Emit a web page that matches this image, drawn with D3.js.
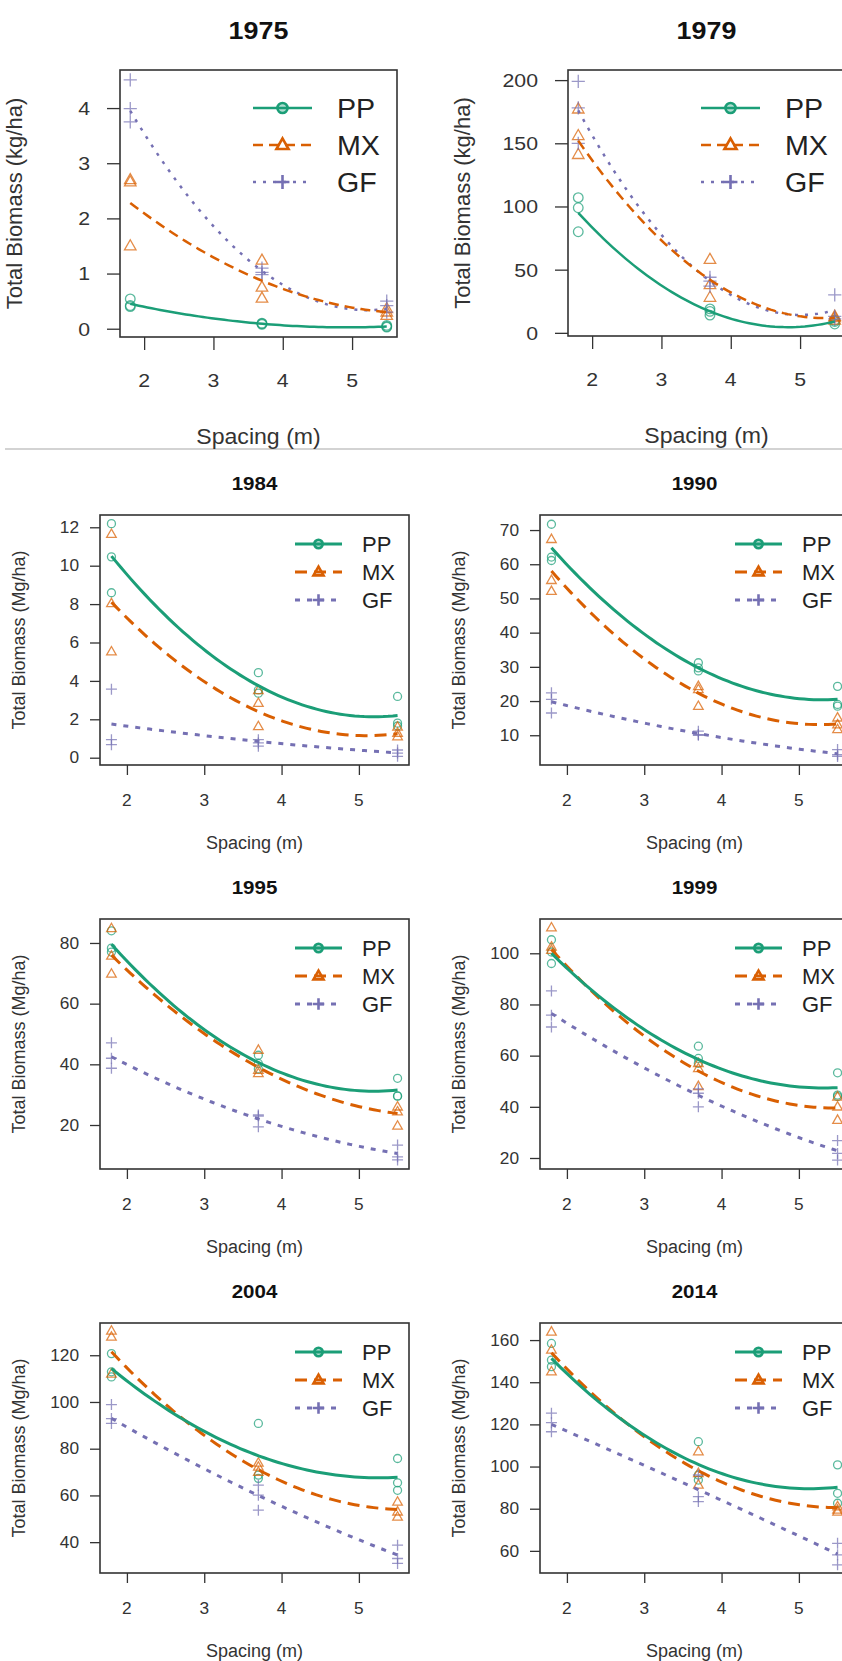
<!DOCTYPE html>
<html><head><meta charset="utf-8">
<script src="https://cdn.jsdelivr.net/npm/d3@7"></script>
<style>
body{margin:0;background:#fff;}
svg{display:block;font-family:"Liberation Sans",Arial,Helvetica,sans-serif;}
</style></head>
<body><svg id="chart" width="842" height="1661"></svg>
<script>
// ---------- data ----------
const years = ["1975","1979","1984","1990","1995","1999","2004","2014"];
const spacing = [1.8, 3.7, 5.5];
const groups = ["PP","MX","GF"];
const xTicks = [2,3,4,5];
const yUnit = {"1975":"kg/ha","1979":"kg/ha","1984":"Mg/ha","1990":"Mg/ha","1995":"Mg/ha","1999":"Mg/ha","2004":"Mg/ha","2014":"Mg/ha"};

const yTicks1975 = [0,1,2,3,4];
const yTicks1979 = [0,50,100,150,200];
const yTicks1984 = [0,2,4,6,8,10,12];
const yTicks1990 = [10,20,30,40,50,60,70];
const yTicks1995 = [20,40,60,80];
const yTicks1999 = [20,40,60,80,100];
const yTicks2004 = [40,60,80,100,120];
const yTicks2014 = [60,80,100,120,140,160];

const yDomain1975 = [-0.15, 4.69];
const yDomain1979 = [-2.5, 208];
const yDomain1984 = [-0.38, 12.64];
const yDomain1990 = [1.3, 74.4];
const yDomain1995 = [5.5, 87.9];
const yDomain1999 = [15.7, 113.4];
const yDomain2004 = [26.8, 133.8];
const yDomain2014 = [49.5, 168.1];

// observed values: one array per spacing (1.8, 3.7, 5.5)
const PP_1975 = [[0.54,0.42,0.40],[0.10,0.08,0.09],[0.06,0.04,0.03]];
const MX_1975 = [[2.70,2.66,1.50],[1.24,0.75,0.55],[0.36,0.30,0.24]];
const GF_1975 = [[4.51,3.99,3.75],[1.10,1.02,0.98],[0.50,0.42,0.30]];
const PP_1979 = [[107,99,80],[19,17,14],[10,9,7]];
const MX_1979 = [[177,156,141],[58,38,28],[13,12,10]];
const GF_1979 = [[199,178,150],[44,41,37],[30,13,11]];
const PP_1984 = [[12.19,10.46,8.59],[4.43,3.53,3.36],[3.19,1.80,1.65]];
const MX_1984 = [[11.64,8.03,5.52],[3.50,2.84,1.63],[1.60,1.28,1.10]];
const GF_1984 = [[3.57,0.94,0.68],[0.94,0.77,0.60],[0.40,0.24,0.07]];
const PP_1990 = [[71.7,62.1,61.1],[31.2,29.7,28.8],[24.3,19.0,18.5]];
const MX_1990 = [[67.3,55.3,52.1],[24.3,23.4,18.5],[15.1,13.1,11.7]];
const GF_1990 = [[22.4,20.5,16.5],[11.2,10.2,10.0],[5.8,4.3,3.8]];
const PP_1995 = [[84.0,78.3,77.0],[43.0,40.3,38.5],[35.4,29.6,29.5]];
const MX_1995 = [[84.8,75.7,69.8],[44.7,38.1,37.0],[26.0,24.4,19.7]];
const GF_1995 = [[47.1,42.0,38.7],[23.3,22.9,19.4],[13.4,9.5,8.5]];
const PP_1999 = [[105.3,100.5,96.0],[63.7,58.9,57.0],[53.3,44.6,44.0]];
const MX_1999 = [[110.0,102.5,101.2],[57.0,55.0,48.0],[43.9,40.0,34.8]];
const GF_1999 = [[85.3,75.8,71.2],[47.0,45.3,40.0],[26.8,21.8,19.2]];
const PP_2004 = [[120.7,112.9,110.7],[90.8,68.7,67.3],[75.8,65.4,62.2]];
const MX_2004 = [[130.4,127.8,112.0],[73.9,72.2,70.0],[57.2,53.0,50.8]];
const GF_2004 = [[98.9,92.9,90.8],[64.4,60.1,53.7],[38.7,33.0,30.9]];
const PP_2014 = [[158.4,150.5,147.4],[111.8,96.0,93.6],[100.8,87.3,82.6]];
const MX_2014 = [[163.9,155.3,145.0],[107.1,96.8,91.3],[81.0,79.4,78.5]];
const GF_2014 = [[125.3,120.8,116.5],[96.0,85.7,83.4],[63.6,58.1,53.4]];

// fitted (quadratic) values at the three spacings
const PP_1975_fit = [0.45,0.09,0.04];
const MX_1975_fit = [2.28,0.87,0.30];
const GF_1975_fit = [3.95,1.05,0.36];
const PP_1979_fit = [95,17,9];
const MX_1979_fit = [152,42,12];
const GF_1979_fit = [176,41,18];
const PP_1984_fit = [10.5,3.75,2.2];
const MX_1984_fit = [8.1,2.4,1.25];
const GF_1984_fit = [1.75,0.85,0.25];
const PP_1990_fit = [64.8,29.7,20.5];
const MX_1990_fit = [58,22.3,13.3];
const GF_1990_fit = [19.8,10.5,4.6];
const PP_1995_fit = [79.6,40.6,31.5];
const MX_1995_fit = [76.0,39.0,23.8];
const GF_1995_fit = [42.5,22.0,10.6];
const PP_1999_fit = [100,58.5,47.5];
const MX_1999_fit = [101.5,54,39.5];
const GF_1999_fit = [76.5,44.5,22.8];
const PP_2004_fit = [114.3,77,67.8];
const MX_2004_fit = [121.5,71,54];
const GF_2004_fit = [93,60,34.5];
const PP_2014_fit = [151.3,101,90.2];
const MX_2014_fit = [154,98,80.5];
const GF_2014_fit = [120,89,58.5];

const D = {
  "1975":{ticks:yTicks1975,dom:yDomain1975,PP:PP_1975,MX:MX_1975,GF:GF_1975,PPf:PP_1975_fit,MXf:MX_1975_fit,GFf:GF_1975_fit},
  "1979":{ticks:yTicks1979,dom:yDomain1979,PP:PP_1979,MX:MX_1979,GF:GF_1979,PPf:PP_1979_fit,MXf:MX_1979_fit,GFf:GF_1979_fit},
  "1984":{ticks:yTicks1984,dom:yDomain1984,PP:PP_1984,MX:MX_1984,GF:GF_1984,PPf:PP_1984_fit,MXf:MX_1984_fit,GFf:GF_1984_fit},
  "1990":{ticks:yTicks1990,dom:yDomain1990,PP:PP_1990,MX:MX_1990,GF:GF_1990,PPf:PP_1990_fit,MXf:MX_1990_fit,GFf:GF_1990_fit},
  "1995":{ticks:yTicks1995,dom:yDomain1995,PP:PP_1995,MX:MX_1995,GF:GF_1995,PPf:PP_1995_fit,MXf:MX_1995_fit,GFf:GF_1995_fit},
  "1999":{ticks:yTicks1999,dom:yDomain1999,PP:PP_1999,MX:MX_1999,GF:GF_1999,PPf:PP_1999_fit,MXf:MX_1999_fit,GFf:GF_1999_fit},
  "2004":{ticks:yTicks2004,dom:yDomain2004,PP:PP_2004,MX:MX_2004,GF:GF_2004,PPf:PP_2004_fit,MXf:MX_2004_fit,GFf:GF_2004_fit},
  "2014":{ticks:yTicks2014,dom:yDomain2014,PP:PP_2014,MX:MX_2014,GF:GF_2014,PPf:PP_2014_fit,MXf:MX_2014_fit,GFf:GF_2014_fit}
};

// ---------- layout & style ----------
const colors = {PP:"#1b9e77", MX:"#d95f02", GF:"#7570b3"};
const layout = {
  "1975":{x:120,y:70,w:277,h:267,big:true},
  "1979":{x:568,y:70,w:277,h:266,big:true},
  "1984":{x:100,y:515,w:309,h:250},
  "1990":{x:540,y:515,w:309,h:250},
  "1995":{x:100,y:919,w:309,h:250},
  "1999":{x:540,y:919,w:309,h:250},
  "2004":{x:100,y:1323,w:309,h:250},
  "2014":{x:540,y:1323,w:309,h:250}
};
const S = {
  big:{title:24,titleDy:-31,tick:19,tickLen:13,yLabGap:30,xLabDy:50,axT:22,yTitleOff:98,xTitleDy:107,
       leg:27,legRows:[38,75,112],legL:[133,192],legT:217,lw:2.5,ps:1.2,sx:1.12,
       dash:{PP:null,MX:"10,6",GF:"3,7"},legSym:1.2},
  small:{title:19,titleDy:-25,tick:16,tickLen:10,yLabGap:21,xLabDy:41,axT:18,yTitleOff:75,xTitleDy:84,
       leg:22,legRows:[29,57,85],legL:[195,242],legT:262,lw:3,ps:1,sx:1.08,
       dash:{PP:null,MX:"12,7",GF:"5,7"},legSym:1}
};

const svg = d3.select("#chart");
svg.append("rect").attr("width",842).attr("height",1661).attr("fill","#fff");

// separator
svg.append("line").attr("x1",5).attr("x2",842).attr("y1",449).attr("y2",449)
  .attr("stroke","#c4c4c4").attr("stroke-width",1.5);

function symbolPath(g, ps){
  if(g==="PP"){ const r=4*ps; return `M${-r},0A${r},${r} 0 1,0 ${r},0A${r},${r} 0 1,0 ${-r},0Z`; }
  if(g==="MX"){ const a=4.8*ps, t=5.2*ps, b=3.2*ps; return `M0,${-t}L${a},${b}L${-a},${b}Z`; }
  const p=5.5*ps; return `M${-p},0H${p}M0,${-p}V${p}`;
}
function lagrange(xs, ys, x){
  let s=0;
  for(let i=0;i<xs.length;i++){
    let t=ys[i];
    for(let j=0;j<xs.length;j++) if(j!==i) t*= (x-xs[j])/(xs[i]-xs[j]);
    s+=t;
  }
  return s;
}
function txt(parent, x, y, str, size, opts={}){
  const sx = opts.sx||1;
  let tr = `translate(${x},${y})`;
  if(opts.rot) tr += ` rotate(${opts.rot})`;
  tr += ` scale(${sx},1)`;
  return parent.append("text").attr("transform",tr)
    .attr("text-anchor",opts.anchor||"middle")
    .attr("dy",opts.dy||0)
    .attr("font-size",size)
    .attr("font-weight",opts.bold?"bold":"normal")
    .attr("fill",opts.fill||"#222")
    .text(str);
}

years.forEach(yr=>{
  const L = layout[yr], st = L.big?S.big:S.small, d = D[yr];
  const g = svg.append("g");
  const x = d3.scaleLinear().domain([1.652,5.648]).range([L.x, L.x+L.w]);
  const y = d3.scaleLinear().domain(d.dom).range([L.y+L.h, L.y]);
  const cx = L.x + L.w/2;

  // title
  txt(g, cx, L.y+st.titleDy, yr, st.title, {bold:true, sx:st.sx, fill:"#111"});

  // x axis
  const xa = d3.axisBottom(x).tickValues(xTicks).tickSize(st.tickLen).tickPadding(st.xLabDy-st.tickLen- st.tick*0.75).tickFormat(d3.format("d"));
  const gx = g.append("g").attr("transform",`translate(0,${L.y+L.h})`).call(xa);
  gx.select(".domain").remove();
  gx.selectAll("line").attr("stroke","#333").attr("stroke-width",1.3);
  gx.selectAll("text").remove();
  xTicks.forEach(t=> txt(g, x(t), L.y+L.h+st.xLabDy, String(t), st.tick, {sx:st.sx, fill:"#333"}));

  // y axis
  const ya = d3.axisLeft(y).tickValues(d.ticks).tickSize(st.tickLen).tickFormat(d3.format("d"));
  const gy = g.append("g").attr("transform",`translate(${L.x},0)`).call(ya);
  gy.select(".domain").remove();
  gy.selectAll("line").attr("stroke","#333").attr("stroke-width",1.3);
  gy.selectAll("text").remove();
  d.ticks.forEach(t=> txt(g, L.x-st.yLabGap, y(t), String(t), st.tick, {sx:st.sx, anchor:"end", dy:"0.36em", fill:"#333"}));

  // axis titles
  txt(g, cx, L.y+L.h+st.xTitleDy, "Spacing (m)", st.axT, {sx:L.big?1.05:1, fill:"#333"});
  txt(g, L.x-st.yTitleOff, L.y+L.h/2, `Total Biomass (${yUnit[yr]})`, st.axT, {rot:-90, fill:"#333"});

  // clip for plot region
  const cid = "clip"+yr;
  g.append("clipPath").attr("id",cid).append("rect")
    .attr("x",L.x).attr("y",L.y).attr("width",L.w).attr("height",L.h);
  const plot = g.append("g").attr("clip-path",`url(#${cid})`);

  // points
  groups.forEach(gr=>{
    d[gr].forEach((vals,i)=>{
      vals.forEach(v=>{
        plot.append("path").attr("d",symbolPath(gr, st.ps))
          .attr("transform",`translate(${x(spacing[i])},${y(v)})`)
          .attr("fill","none").attr("stroke",colors[gr])
          .attr("stroke-width",1.3).attr("stroke-opacity",0.72);
      });
    });
  });

  // fitted curves
  const xs = d3.range(0,61).map(k=>spacing[0]+(spacing[2]-spacing[0])*k/60);
  const line = d3.line().x(p=>x(p[0])).y(p=>y(p[1]));
  ["GF","MX","PP"].forEach(gr=>{
    const fit = d[gr+"f"];
    const pts = xs.map(xx=>[xx, lagrange(spacing, fit, xx)]);
    plot.append("path").attr("d",line(pts)).attr("fill","none")
      .attr("stroke",colors[gr]).attr("stroke-width",st.lw)
      .attr("stroke-dasharray",st.dash[gr]);
  });

  // box
  g.append("rect").attr("x",L.x).attr("y",L.y).attr("width",L.w).attr("height",L.h)
    .attr("fill","none").attr("stroke","#333").attr("stroke-width",1.6);

  // legend
  groups.forEach((gr,i)=>{
    const ly = L.y+st.legRows[i];
    g.append("line").attr("x1",L.x+st.legL[0]).attr("x2",L.x+st.legL[1]).attr("y1",ly).attr("y2",ly)
      .attr("stroke",colors[gr]).attr("stroke-width",st.lw).attr("stroke-dasharray",st.dash[gr]);
    g.append("path").attr("d",symbolPath(gr, st.ps*1.05))
      .attr("transform",`translate(${L.x+(st.legL[0]+st.legL[1])/2},${ly})`)
      .attr("fill",gr==="PP"?"#1b9e77":"none").attr("fill-opacity",gr==="PP"?0.35:0)
      .attr("stroke",colors[gr]).attr("stroke-width",2.6);
    txt(g, L.x+st.legT, ly, gr, st.leg, {anchor:"start", dy:"0.36em", sx:L.big?1.06:1, fill:"#222"});
  });
});
</script>
</body></html>
